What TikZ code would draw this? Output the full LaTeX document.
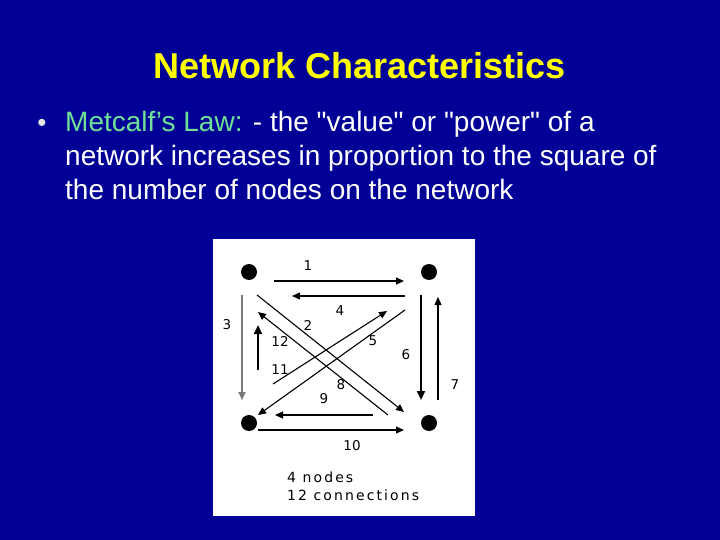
\documentclass[tikz,border=0pt]{standalone}
\usepackage{fontspec}
\setmainfont{Liberation Sans}
\newfontfamily\bodyfont{Liberation Sans}
\newfontfamily\diagfont[LetterSpace=15]{DejaVu Sans}
\newfontfamily\numfont{DejaVu Sans}
\usetikzlibrary{arrows.meta}
\definecolor{bgblue}{RGB}{0,0,150}
\definecolor{titleyellow}{RGB}{255,255,0}
\definecolor{lawgreen}{RGB}{110,225,150}
\definecolor{linegray}{RGB}{120,120,120}
\tikzset{
  vertex/.style={circle,fill=black,inner sep=0pt,minimum size=16pt},
  conn/.style={draw=black,line width=1.1pt,-{Triangle[length=8pt,width=7pt]}},
  thickconn/.style={conn,line width=2.2pt,-{Triangle[length=9pt,width=8pt]}},
  numlabel/.style={font=\numfont\fontsize{13.5}{15}\selectfont,text=black,inner sep=0pt},
  captext/.style={font=\diagfont\fontsize{14}{16}\selectfont,text=black,inner sep=0pt,anchor=base west},
  bodytext/.style={font=\bodyfont\fontsize{28}{33}\selectfont,text=white,anchor=base west,inner sep=0pt}
}
\begin{document}
\begin{tikzpicture}[x=1pt,y=-1pt]
\useasboundingbox (0,0) rectangle (720,540);
\fill[bgblue] (0,0) rectangle (720,540);
% title
\node[font=\bfseries\fontsize{36}{40}\selectfont,text=titleyellow,anchor=base,inner sep=0pt] (title) at (360,79) {Network Characteristics};
% bullet text
\node[text=white!80!gray,font=\bodyfont\fontsize{26}{32}\selectfont,anchor=base,inner sep=0pt] (bullet) at (42,132) {•};
\node[bodytext] (line1) at (65,132) {\textcolor{lawgreen}{Metcalf’s Law:} - the "value" or "power" of a};
\node[bodytext] (line2) at (65,166) {network increases in proportion to the square of};
\node[bodytext] (line3) at (65,200) {the number of nodes on the network};
% panel
\fill[white] (213,239) rectangle (475,516);
% vertices
\node[vertex] (tl) at (249,272) {};
\node[vertex] (tr) at (429,272) {};
\node[vertex] (bl) at (249,423) {};
\node[vertex] (br) at (429,423) {};
% connector end points
\coordinate (c1s) at (274,281);  \coordinate (c1e) at (404,281);
\coordinate (c4s) at (405,296);  \coordinate (c4e) at (292,296);
\coordinate (c3s) at (242,295);  \coordinate (c3e) at (242,400);
\coordinate (c12s) at (258,370); \coordinate (c12e) at (258,325);
\coordinate (c2s) at (257,295);  \coordinate (c2e) at (404,412);
\coordinate (c8s) at (388,415);  \coordinate (c8e) at (258,312);
\coordinate (cAs) at (273,384);  \coordinate (cAe) at (387,311);
\coordinate (cBs) at (405,310);  \coordinate (cBe) at (258,415);
\coordinate (c9s) at (373,415);  \coordinate (c9e) at (275,415);
\coordinate (c10s) at (258,430); \coordinate (c10e) at (404,430);
\coordinate (c6s) at (421,295);  \coordinate (c6e) at (421,400);
\coordinate (c7s) at (438,400);  \coordinate (c7e) at (438,297);
% connectors
\draw[conn] (c1s) -- (c1e);
\draw[conn] (c4s) -- (c4e);
\draw[conn,draw=linegray,line width=1.8pt] (c3s) -- (c3e);
\draw[thickconn] (c12s) -- (c12e);
\draw[conn] (c2s) -- (c2e);
\draw[conn] (c8s) -- (c8e);
\draw[conn] (cAs) -- (cAe);
\draw[conn] (cBs) -- (cBe);
\draw[conn] (c9s) -- (c9e);
\draw[conn] (c10s) -- (c10e);
\draw[thickconn] (c6s) -- (c6e);
\draw[conn] (c7s) -- (c7e);
% labels
\node[numlabel] (l1) at (308,266) {1};
\node[numlabel] (l2) at (308,325) {2};
\node[numlabel] (l3) at (227,325) {3};
\node[numlabel] (l4) at (340,311) {4};
\node[numlabel] (l5) at (373,341) {5};
\node[numlabel] (l6) at (406,355) {6};
\node[numlabel] (l7) at (455,385) {7};
\node[numlabel] (l8) at (341,385) {8};
\node[numlabel] (l9) at (324,399) {9};
\node[numlabel] (l10) at (352,446) {10};
\node[numlabel] (l11) at (280,370) {11};
\node[numlabel] (l12) at (280,341) {12};
\node[captext] (cap1) at (287,482) {4 nodes};
\node[captext] (cap2) at (287,500) {12 connections};
\end{tikzpicture}
\end{document}
